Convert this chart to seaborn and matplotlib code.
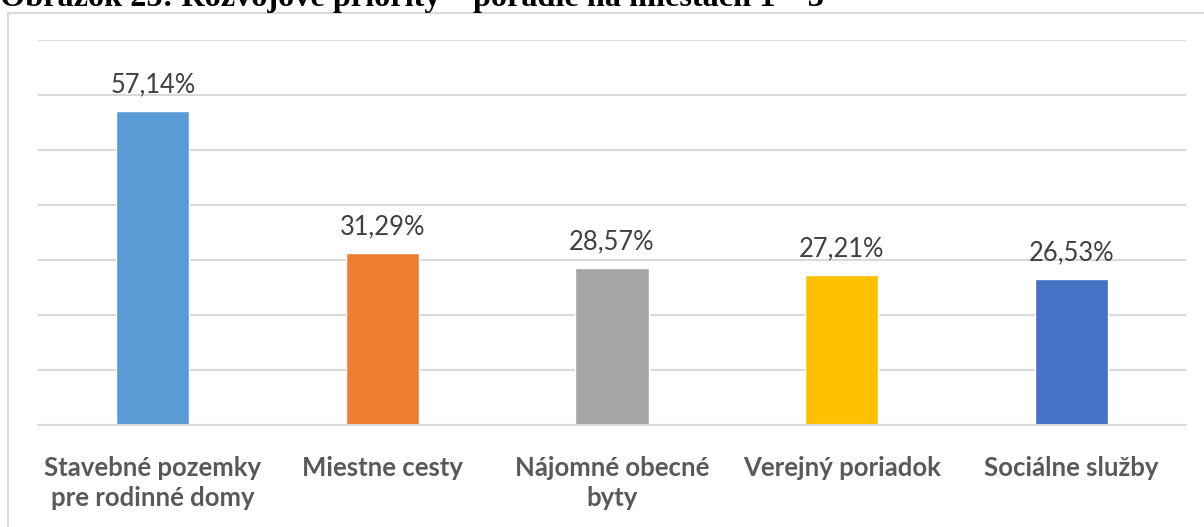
import matplotlib
matplotlib.use("Agg")
import matplotlib.pyplot as plt
import seaborn as sns
import pandas as pd
from matplotlib.patches import Rectangle

categories = ["Stavebné pozemky\npre rodinné domy", "Miestne cesty", "Nájomné obecné\nbyty",
              "Verejný poriadok", "Sociálne služby"]
values = [57.14, 31.29, 28.57, 27.21, 26.53]
value_labels = ["57,14%", "31,29%", "28,57%", "27,21%", "26,53%"]
colors = ["#5B9BD5", "#ED7D31", "#A5A5A5", "#FFC000", "#4472C4"]
title = "Obrázok 25: Rozvojové priority – poradie na miestach 1 – 3"

sns.set_theme(style="white")
plt.rcParams["font.family"] = ["Lato", "DejaVu Sans"]

W, H = 1204, 527
fig = plt.figure(figsize=(W / 100, H / 100), dpi=100)
ax = fig.add_axes([38 / W, 1 - 425 / H, (1186 - 38) / W, (425 - 40) / H])

df = pd.DataFrame({"cat": categories, "val": values})
sns.barplot(data=df, x="cat", y="val", hue="cat", palette=colors, legend=False,
            width=0.318, ax=ax, saturation=1)

ax.set_ylim(0, 70)
ax.set_yticks(range(0, 71, 10))
ax.yaxis.grid(True, color="#D9D9D9", linewidth=1.5)
ax.set_axisbelow(True)
ax.tick_params(axis="y", left=False, labelleft=False)
ax.tick_params(axis="x", bottom=False, pad=16.5)
for s in ["top", "left", "right"]:
    ax.spines[s].set_visible(False)
ax.spines["bottom"].set_color("#D9D9D9")
ax.spines["bottom"].set_linewidth(1.5)
ax.set_xlabel("")
ax.set_ylabel("")
for lbl in ax.get_xticklabels():
    lbl.set_fontsize(18.5)
    lbl.set_fontweight("bold")
    lbl.set_color("#595959")
    lbl.set_linespacing(1.27)

for i, (v, t) in enumerate(zip(values, value_labels)):
    ax.annotate(t, (i, v), xytext=(0, 10), textcoords="offset points",
                ha="center", va="bottom", fontsize=18.4, color="#404040")

# outer frame
fig.patches.append(Rectangle((8 / W, -0.1), 1.2, 1 - 12.5 / H + 0.1,
                             transform=fig.transFigure, fill=False,
                             edgecolor="#D9D9D9", linewidth=1.5, zorder=0))

fig.text(0 / W, 1 - 6 / H, title, ha="left", va="baseline",
         fontsize=23.2, fontweight="bold", family="Liberation Serif", color="black")

fig.savefig("out.png", dpi=100)
